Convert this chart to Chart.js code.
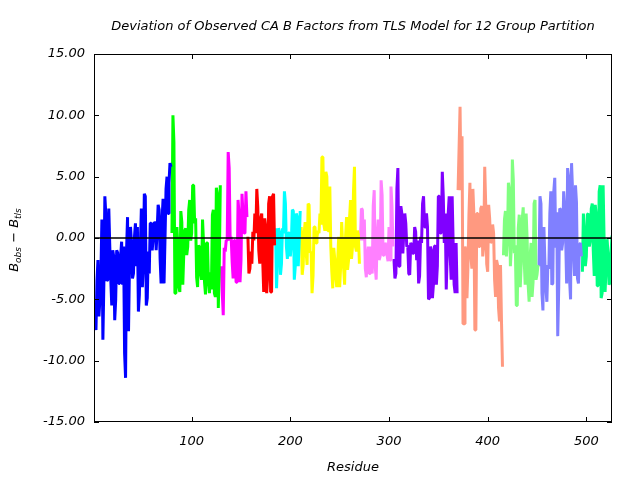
<!DOCTYPE html>
<html><head><meta charset="utf-8">
<script src="https://cdn.jsdelivr.net/npm/chart.js@4/dist/chart.umd.min.js"></script>
<style>html,body{margin:0;padding:0;background:#fff}</style>
</head><body>
<canvas id="c" width="640" height="480"></canvas>
<script>
const titleText = "Deviation of Observed CA B Factors from TLS Model for 12 Group Partition";
const xTitle = "Residue";
const xTicks = [100, 200, 300, 400, 500];
const yTicks = [-15, -10, -5, 0, 5, 10, 15];
const groupStarts = [1, 80, 130, 157, 185, 211, 271, 305, 370, 416, 452, 496];
const groupColors = ["#0000ff", "#00ff00", "#ff00ff", "#ff0000", "#00ffff", "#ffff00",
                     "#ff80ff", "#8000ff", "#ff9980", "#80ff80", "#8080ff", "#00ff80"];

const g1 = [-6.1,-7.0,-7.5,-3.5,-1.8,-6.4,-5.0,-2.9,1.5,-8.3,-3.7,3.4,1.9,-3.5,-3.4,2.4,-0.7,-3.4,-5.5,-1.0,
  -1.5,-6.7,-5.0,-1.0,-1.2,-3.7,-3.7,-1.5,-0.3,-3.8,-0.7,-9.4,-11.4,-1.0,1.7,-7.6,-1.8,0.9,-0.4,-3.3,
  -2.9,0.1,1.2,-2.3,0.9,-6.0,-4.6,-0.7,2.4,-4.0,-2.3,3.6,3.4,-5.5,-4.9,-1.1,-2.9,1.2,1.2,-1.0,
  0.1,1.3,1.2,-1.0,0.6,2.7,2.3,-1.7,-3.7,1.5,3.2,-3.7,0.1,4.0,5.0,2.0,4.5,6.1,5.8];
const g2 = [0.4,10.0,7.8,-4.5,-4.5,0.9,-0.6,-4.0,-4.4,2.2,1.3,-3.8,-1.25,0.6,0.8,-1.4,-0.7,2.3,3.1,-0.2,
  0.4,4.3,4.3,1.2,1.6,-3.2,-4.0,-0.6,-0.8,-2.9,-3.4,1.5,-0.4,-3.6,-4.6,-0.4,-0.4,-3.7,-4.5,-2.8,
  -4.2,1.9,2.3,-4.5,-4.8,4.1,3.6,-5.7,-2.1,4.3];
const g3 = [-2.3,-4.5,-6.3,-0.8,-1.1,-0.2,-0.2,7.0,5.7,-0.2,0.1,-1.9,-3.3,-0.2,-0.2,-3.6,-3.6,3.1,2.0,-3.6,
  -1.8,3.6,3.6,0.4,0.4,3.8,1.7];
const g4 = [0.1,-2.9,-2.5,-1.1,-2.1,0.5,-0.2,2.0,0.4,4.0,2.5,-1.0,-2.1,1.6,2.0,-1.8,-4.4,1.6,0.9,-4.5,
  -3.2,2.8,3.4,-4.4,-4.4,3.4,3.6,-0.6];
const g5 = [0.8,-4.1,-1.8,0.8,0.5,-3.0,-2.1,0.8,0.4,3.8,2.8,-0.7,-1.7,0.4,0.4,-1.5,-0.4,2.3,2.2,-3.4,
  -2.3,2.0,1.7,-2.3,-0.2,2.2];
const g6 = [0.9,-3.0,-2.2,0.4,1.3,-1.2,-2.2,2.8,2.7,-1.2,-1.1,-4.5,-3.1,0.9,0.9,-0.4,0.1,0.6,0.4,2.0,
  1.1,6.6,6.6,1.1,0.6,5.4,5.0,0.6,0.6,4.2,-0.7,-2.7,-4.1,-0.8,-1.7,-3.1,-4.0,-1.8,0.1,-4.0,
  -2.3,1.3,-0.4,-2.5,-3.8,0.2,1.7,-2.6,-1.8,1.6,3.1,-1.7,-0.7,3.8,5.8,-0.7,-1.1,0.6,0.2,-2.1];
const g7 = [-0.2,2.4,2.3,-0.2,1.5,-2.5,-3.2,-1.5,-0.7,-2.9,-2.9,-0.7,-2.9,2.6,3.9,-2.3,-3.4,0.1,1.5,-1.8,
  -1.5,4.7,3.5,-1.4,-1.4,-0.4,-0.6,-1.4,-1.9,0.9,-1.8,4.2,2.6,-0.7];
const g8 = [-1.7,-3.3,-2.9,4.0,5.7,-2.3,-2.3,2.6,2.0,-1.25,0.4,2.0,1.2,-0.7,-0.6,-2.9,-3.0,-0.4,-0.6,-1.25,
  -1.25,0.9,0.5,-1.8,-0.2,-3.7,-3.1,0.1,-0.4,2.8,3.4,0.9,0.9,2.0,0.9,-5.0,-4.9,-0.7,-1.0,-4.9,
  -3.8,-0.7,-0.6,-3.8,-2.3,3.4,3.4,0.4,0.4,5.4,3.4,-0.4,2.0,-4.2,-1.25,2.0,3.4,-1.5,-3.4,3.4,
  -0.4,-3.8,-4.5,-0.4,-4.5];
const g9 = [3.9,7.3,10.7,3.9,8.3,-7.0,-7.0,-0.7,-1.1,-4.9,-2.3,1.9,4.5,-1.5,-2.5,4.0,2.0,-7.5,-7.5,2.0,
  2.0,-0.7,-0.7,2.4,2.6,-1.5,-0.7,5.8,2.7,-2.1,-2.75,2.7,1.6,-0.4,-0.3,1.1,0.4,-3.4,-4.8,-1.8,
  -2.2,-5.7,-6.8,-2.2,-6.8,-10.5];
const g10 = [-1.4,1.5,2.2,-1.5,-0.2,4.5,3.9,-2.3,-0.7,6.4,4.7,-1.25,-0.6,-5.5,-5.5,0.8,1.9,-4.0,-2.1,1.5,
  2.5,-1.8,-3.8,2.0,-0.1,-3.8,-5.2,-1.5,-0.4,-4.8,-3.6,2.8,3.1,-3.4,-3.0,-2.2];
const g11 = [-2.3,3.4,2.8,-4.5,-5.9,0.9,-2.0,-4.1,-5.2,-2.2,-2.5,2.0,3.8,-3.8,-3.7,3.8,4.9,-0.8,2.1,-8.0,
  -4.1,2.4,2.3,-1.0,-0.4,3.8,2.6,0.1,-3.7,5.7,5.0,-3.4,-5.0,6.1,3.9,-1.25,-3.1,4.3,2.9,-3.3,
  -3.7,-0.6,-0.4,-1.5];
const g12 = [-2.75,2.0,0.5,-2.3,-1.5,1.9,2.0,-0.7,-0.2,2.4,2.8,-1.0,-3.1,2.7,1.9,-3.9,-3.9,3.8,4.3,-4.9,
  -4.5,4.3,-0.2,-4.4,-2.5,-0.1,-1.25,-3.8,-3.6,-1.25,0.2,-4.1];

const groups = [g1,g2,g3,g4,g5,g6,g7,g8,g9,g10,g11,g12];
const FONT = "'DejaVu Sans', sans-serif";

const datasets = groups.map((vals, gi) => ({
  data: vals.map((v, i) => ({x: groupStarts[gi] + i, y: v})),
  borderColor: groupColors[gi],
  backgroundColor: groupColors[gi],
  borderWidth: 3,
  borderJoinStyle: 'bevel',
  borderCapStyle: 'butt',
  pointRadius: 0,
  tension: 0,
  fill: false
}));

const deco = {
  id: 'deco',
  afterDatasetsDraw(chart) {
    const {ctx, chartArea: a, scales: {x, y}} = chart;
    ctx.save();
    ctx.strokeStyle = '#000';
    ctx.lineWidth = 1.5;
    const y0 = y.getPixelForValue(0);
    ctx.beginPath(); ctx.moveTo(a.left, y0); ctx.lineTo(a.right, y0); ctx.stroke();
    ctx.lineWidth = 1;
    ctx.strokeRect(a.left + 0.5, a.top + 0.5, a.width - 1, a.height - 1);
    const L = 5;
    ctx.beginPath();
    xTicks.forEach(v => {
      const px = Math.round(x.getPixelForValue(v)) + 0.5;
      ctx.moveTo(px, a.bottom); ctx.lineTo(px, a.bottom - L);
      ctx.moveTo(px, a.top); ctx.lineTo(px, a.top + L);
    });
    yTicks.forEach(v => {
      const py = Math.round(y.getPixelForValue(v)) + 0.5;
      ctx.moveTo(a.left, py); ctx.lineTo(a.left + L, py);
      ctx.moveTo(a.right, py); ctx.lineTo(a.right - L, py);
    });
    ctx.stroke();
    ctx.fillStyle = '#000';
    ctx.textAlign = 'center';
    ctx.textBaseline = 'middle';
    ctx.font = 'italic 13px ' + FONT;
    const cx = (a.left + a.right) / 2;
    ctx.fillText(titleText, cx, 27);
    ctx.fillText(xTitle, cx, 468);
    ctx.translate(18, (a.top + a.bottom) / 2 + 2);
    ctx.rotate(-Math.PI / 2);
    ctx.textBaseline = 'alphabetic';
    ctx.textAlign = 'left';
    const big = 'italic 13px ' + FONT, small = 'italic 9px ' + FONT;
    const parts = [["B", big, 0], ["obs", small, 3], [" \u2212 ", big, 0], ["B", big, 0], ["tls", small, 3]];
    let total = 0;
    parts.forEach(p => { ctx.font = p[1]; total += ctx.measureText(p[0]).width; });
    let px = -total / 2;
    parts.forEach(p => { ctx.font = p[1]; ctx.fillText(p[0], px, p[2]); px += ctx.measureText(p[0]).width; });
    ctx.restore();
  }
};

new Chart(document.getElementById('c'), {
  type: 'line',
  data: {datasets},
  options: {
    responsive: false,
    animation: false,
    devicePixelRatio: 1,
    parsing: false,
    layout: {padding: {left: 10, right: 28, top: 54, bottom: 18}},
    plugins: {legend: {display: false}, tooltip: {enabled: false}, title: {display: false}},
    scales: {
      x: {
        type: 'linear', min: 1, max: 526,
        afterBuildTicks: s => { s.ticks = xTicks.map(v => ({value: v})); },
        grid: {display: false, drawTicks: false},
        border: {display: false},
        ticks: {font: {family: FONT, size: 13, style: 'italic'}, color: '#000', padding: 12,
                maxRotation: 0, autoSkip: false, callback: v => String(v)},
        afterFit: s => { s.height = 40; }
      },
      y: {
        type: 'linear', min: -15, max: 15,
        afterBuildTicks: s => { s.ticks = yTicks.map(v => ({value: v})); },
        grid: {display: false, drawTicks: false},
        border: {display: false},
        ticks: {font: {family: FONT, size: 13, style: 'italic'}, color: '#000', padding: 9,
                autoSkip: false, callback: v => Number(v).toFixed(2)},
        afterFit: s => { s.width = 84; }
      }
    }
  },
  plugins: [deco]
});
</script>
</body></html>
